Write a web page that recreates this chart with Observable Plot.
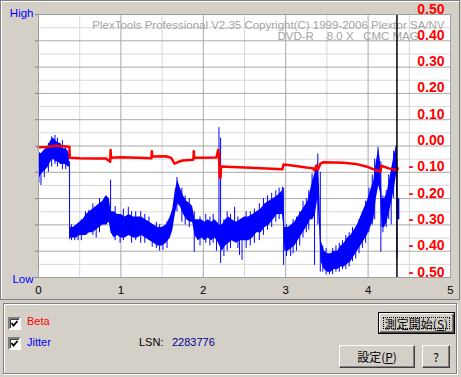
<!DOCTYPE html>
<html>
<head>
<meta charset="utf-8">
<script src="https://cdn.jsdelivr.net/npm/d3@7"></script>
<script src="https://cdn.jsdelivr.net/npm/@observablehq/plot@0.6"></script>
<style>
  html, body { margin: 0; padding: 0; background: #d4d0c8; }
  #wrap { position: relative; width: 461px; height: 377px; background: #d4d0c8; overflow: hidden;
          font-family: "Liberation Sans", Arial, sans-serif; font-size: 11px; }
  .abs { position: absolute; }
  #toppanel { left: 0; top: 0; width: 458px; height: 298px; border: 1px solid #808080; box-shadow: inset 1px 1px 0 #fff; }
  #group { left: 3px; top: 303px; width: 452px; height: 69px; border: 1px solid #808080; box-shadow: inset 1px 1px 0 #fff, 1px 1px 0 #fff; }
  #chart { left: 0; top: 0; }
  .cb { width: 9px; height: 9px; background: #fff; border-style: solid; border-width: 2px;
        border-color: #808080 #fff #fff #808080; box-shadow: inset 1px 1px 0 #404040; }
  .cb svg { position: absolute; left: 0; top: 0; }
  .lbl { white-space: nowrap; line-height: 13px; }
  .btn { box-sizing: border-box; background: #d4d0c8; border: 1px solid; border-color: #fff #404040 #404040 #fff;
         box-shadow: inset -1px -1px 0 #808080; display: flex; align-items: center; justify-content: center;
         font-family: "Noto Sans CJK JP", sans-serif; font-size: 12px; color: #000; }
  .defbtn { box-sizing: border-box; border: 1px solid #000; }
  .focus { position: absolute; left: 3px; top: 3px; right: 3px; bottom: 3px; border: 1px dotted #000; }
</style>
</head>
<body>
<div id="wrap">
  <div id="toppanel" class="abs"></div>
  <div id="chart" class="abs"></div>
  <div id="group" class="abs"></div>

  <div class="abs cb" style="left:8px;top:317px;"><svg width="9" height="9"><polyline points="1.5,4 3.5,6.5 7.5,2" fill="none" stroke="#000" stroke-width="1.8"/></svg></div>
  <div class="abs lbl" style="left:27px;top:315px;color:#ff0000;">Beta</div>
  <div class="abs cb" style="left:8px;top:337px;"><svg width="9" height="9"><polyline points="1.5,4 3.5,6.5 7.5,2" fill="none" stroke="#000" stroke-width="1.8"/></svg></div>
  <div class="abs lbl" style="left:27px;top:336px;color:#0000ff;">Jitter</div>
  <div class="abs lbl" style="left:139px;top:336px;color:#000;">LSN:</div>
  <div class="abs lbl" style="left:172px;top:336px;color:#000090;">2283776</div>

  <div class="abs defbtn" style="left:378px;top:312px;width:77px;height:22px;">
    <div class="btn" style="width:75px;height:20px;position:relative;">
      <div class="focus"></div><span>測定開始(<u>S</u>)</span>
    </div>
  </div>
  <div class="abs btn" style="left:339px;top:345px;width:76px;height:23px;"><span>設定(<u>P</u>)</span></div>
  <div class="abs btn" style="left:422px;top:345px;width:28px;height:23px;"><span>?</span></div>
</div>
<script>
// ---- data ----
const xTickValues = [0, 1, 2, 3, 4, 5];
const xMinorValues = [0.5, 1.5, 2.5, 3.5, 4.5];
const yTickValues = [0.5, 0.4, 0.3, 0.2, 0.1, 0, -0.1, -0.2, -0.3, -0.4, -0.5];
const yMinorValues = [0.45, 0.35, 0.25, 0.15, 0.05, -0.05, -0.15, -0.25, -0.35, -0.45];
const yTickLabels = ["0.50", "0.40", "0.30", "0.20", "0.10", "0.00", "- 0.10", "- 0.20", "- 0.30", "- 0.40", "- 0.50"];

const markerX = 4.35; // current position line

// Beta (red)
const betaX = [0.00, 0.10, 0.20, 0.30, 0.375, 0.38, 0.50, 0.70, 0.82, 0.85, 0.87, 0.875, 0.88, 1.00, 1.20, 1.37, 1.375, 1.38, 1.55, 1.61, 1.65, 1.70, 1.75, 1.88, 1.885, 1.89, 2.16, 2.18, 2.19, 2.20, 2.21, 2.215, 2.35, 2.50, 2.70, 2.96, 2.975, 3.10, 3.25, 3.33, 3.35, 3.37, 3.39, 3.42, 3.45, 3.70, 3.85, 4.00, 4.10, 4.15, 4.16, 4.25, 4.33, 4.345, 4.36];
const betaY = [-0.005, -0.004, 0.001, -0.001, -0.003, -0.045, -0.047, -0.048, -0.048, -0.055, -0.060, -0.015, -0.045, -0.043, -0.045, -0.047, -0.020, -0.040, -0.039, -0.045, -0.067, -0.060, -0.055, -0.052, -0.020, -0.045, -0.044, -0.015, -0.030, -0.120, -0.120, -0.078, -0.080, -0.082, -0.085, -0.088, -0.070, -0.075, -0.082, -0.085, -0.093, -0.075, -0.090, -0.068, -0.062, -0.064, -0.068, -0.080, -0.093, -0.097, -0.075, -0.085, -0.090, -0.095, -0.085];

// Jitter (blue) band: low / high edges
const jitX = [0.00, 0.03, 0.06, 0.09, 0.12, 0.15, 0.18, 0.21, 0.24, 0.27, 0.30, 0.33, 0.36, 0.375, 0.38, 0.42, 0.46, 0.50, 0.54, 0.58, 0.62, 0.66, 0.70, 0.74, 0.78, 0.82, 0.86, 0.88, 0.92, 0.96, 1.00, 1.05, 1.10, 1.15, 1.20, 1.25, 1.30, 1.35, 1.40, 1.45, 1.50, 1.55, 1.60, 1.63, 1.66, 1.69, 1.72, 1.76, 1.80, 1.84, 1.87, 1.90, 1.94, 1.98, 2.02, 2.06, 2.10, 2.14, 2.17, 2.20, 2.23, 2.27, 2.31, 2.35, 2.40, 2.45, 2.50, 2.55, 2.60, 2.65, 2.70, 2.75, 2.80, 2.85, 2.90, 2.96, 2.975, 2.99, 3.03, 3.07, 3.11, 3.15, 3.19, 3.23, 3.27, 3.30, 3.33, 3.36, 3.39, 3.41, 3.43, 3.47, 3.51, 3.55, 3.59, 3.63, 3.67, 3.71, 3.75, 3.79, 3.83, 3.87, 3.91, 3.95, 3.99, 4.03, 4.07, 4.10, 4.13, 4.15, 4.17, 4.20, 4.23, 4.26, 4.29, 4.32, 4.345, 4.36, 4.385];
const jitLo = [-0.13, -0.11, -0.10, -0.09, -0.08, -0.06, -0.05, -0.06, -0.06, -0.07, -0.07, -0.07, -0.08, -0.08, -0.35, -0.35, -0.35, -0.34, -0.34, -0.34, -0.33, -0.33, -0.32, -0.31, -0.30, -0.30, -0.29, -0.33, -0.35, -0.34, -0.35, -0.35, -0.34, -0.35, -0.35, -0.34, -0.35, -0.36, -0.37, -0.38, -0.38, -0.37, -0.35, -0.32, -0.26, -0.22, -0.23, -0.26, -0.28, -0.29, -0.29, -0.34, -0.36, -0.35, -0.36, -0.35, -0.36, -0.35, -0.36, -0.38, -0.40, -0.38, -0.37, -0.36, -0.37, -0.36, -0.36, -0.36, -0.35, -0.33, -0.33, -0.31, -0.30, -0.28, -0.26, -0.26, -0.30, -0.40, -0.40, -0.39, -0.38, -0.36, -0.34, -0.32, -0.30, -0.28, -0.28, -0.26, -0.20, -0.30, -0.44, -0.47, -0.48, -0.48, -0.47, -0.47, -0.46, -0.46, -0.45, -0.44, -0.42, -0.40, -0.38, -0.36, -0.34, -0.31, -0.28, -0.20, -0.15, -0.18, -0.31, -0.31, -0.29, -0.25, -0.21, -0.16, -0.11, -0.28, -0.28];
const jitHi = [-0.02, -0.03, -0.02, -0.01, 0.00, 0.02, 0.03, 0.02, 0.01, 0.01, -0.01, -0.01, -0.02, -0.03, -0.31, -0.31, -0.30, -0.29, -0.28, -0.26, -0.25, -0.24, -0.23, -0.22, -0.21, -0.19, -0.20, -0.25, -0.25, -0.26, -0.26, -0.27, -0.26, -0.27, -0.27, -0.27, -0.28, -0.29, -0.30, -0.31, -0.31, -0.30, -0.27, -0.24, -0.17, -0.13, -0.16, -0.19, -0.21, -0.22, -0.23, -0.28, -0.28, -0.28, -0.29, -0.28, -0.29, -0.28, -0.29, -0.30, -0.30, -0.28, -0.27, -0.28, -0.29, -0.28, -0.27, -0.27, -0.26, -0.25, -0.24, -0.22, -0.21, -0.20, -0.19, -0.17, -0.19, -0.31, -0.31, -0.30, -0.29, -0.27, -0.25, -0.23, -0.21, -0.17, -0.13, -0.10, -0.06, -0.15, -0.36, -0.40, -0.41, -0.41, -0.40, -0.40, -0.38, -0.37, -0.35, -0.34, -0.32, -0.30, -0.27, -0.24, -0.21, -0.17, -0.13, -0.06, -0.01, -0.06, -0.20, -0.20, -0.18, -0.13, -0.08, -0.03, 0.00, -0.20, -0.20];

// Jitter spikes (single strokes reaching beyond the band)
const spikeX = [0.005, 0.03, 0.07, 0.12, 0.16, 0.20, 0.23, 0.29, 0.33, 0.377, 0.40, 0.44, 0.48, 0.52, 0.57, 0.61, 0.66, 0.70, 0.74, 0.78, 0.82, 0.875, 0.93, 0.99, 1.03, 1.09, 1.13, 1.18, 1.24, 1.29, 1.34, 1.38, 1.43, 1.47, 1.51, 1.56, 1.68, 1.74, 1.78, 1.83, 1.89, 1.96, 2.03, 2.08, 2.12, 2.16, 2.19, 2.21, 2.25, 2.29, 2.33, 2.38, 2.42, 2.44, 2.47, 2.52, 2.57, 2.62, 2.68, 2.73, 2.78, 2.83, 2.88, 2.92, 2.96, 2.975, 3.01, 3.06, 3.09, 3.13, 3.17, 3.21, 3.25, 3.28, 3.32, 3.35, 3.39, 3.42, 3.45, 3.49, 3.53, 3.57, 3.61, 3.65, 3.69, 3.73, 3.77, 3.81, 3.85, 3.89, 3.93, 3.97, 4.01, 4.05, 4.08, 4.12, 4.155, 4.18, 4.22, 4.25, 4.28, 4.31, 4.34, 4.35];
const spikeLo = [-0.14, -0.15, -0.12, -0.10, -0.08, -0.07, -0.08, -0.09, -0.09, -0.355, -0.36, -0.36, -0.36, -0.36, -0.34, -0.30, -0.34, -0.35, -0.33, -0.30, -0.30, -0.30, -0.36, -0.37, -0.36, -0.30, -0.37, -0.36, -0.37, -0.37, -0.33, -0.385, -0.39, -0.40, -0.397, -0.39, -0.25, -0.29, -0.30, -0.31, -0.404, -0.38, -0.37, -0.38, -0.37, -0.40, -0.36, -0.447, -0.42, -0.40, -0.39, -0.30, -0.39, -0.416, -0.435, -0.39, -0.38, -0.37, -0.36, -0.34, -0.32, -0.31, -0.29, -0.28, -0.25, -0.454, -0.42, -0.42, -0.41, -0.40, -0.38, -0.35, -0.33, -0.32, -0.25, -0.454, -0.30, -0.48, -0.48, -0.49, -0.49, -0.49, -0.48, -0.48, -0.47, -0.47, -0.46, -0.44, -0.43, -0.41, -0.39, -0.37, -0.33, -0.30, -0.28, -0.10, -0.404, -0.33, -0.31, -0.28, -0.30, -0.20, -0.10, -0.43];
const spikeHi = [-0.03, -0.06, -0.04, 0.01, 0.035, 0.04, 0.03, 0.02, 0.00, -0.06, -0.30, -0.31, -0.30, -0.28, -0.25, -0.245, -0.22, -0.24, -0.20, -0.21, -0.19, -0.13, -0.23, -0.26, -0.24, -0.233, -0.25, -0.25, -0.25, -0.26, -0.27, -0.32, -0.29, -0.30, -0.35, -0.29, -0.12, -0.16, -0.19, -0.20, -0.25, -0.27, -0.26, -0.27, -0.26, -0.33, 0.07, 0.03, -0.28, -0.25, -0.26, -0.233, -0.27, -0.35, -0.36, -0.25, -0.25, -0.24, -0.22, -0.20, -0.19, -0.18, -0.17, -0.16, -0.157, -0.16, -0.30, -0.37, -0.28, -0.27, -0.25, -0.21, -0.20, -0.17, -0.106, -0.15, -0.03, -0.10, -0.38, -0.39, -0.44, -0.39, -0.38, -0.37, -0.36, -0.34, -0.33, -0.31, -0.37, -0.28, -0.25, -0.21, -0.16, -0.11, -0.05, -0.005, -0.06, -0.19, -0.17, -0.11, -0.20, -0.02, 0.00, -0.05];

const watermark1 = "PlexTools Professional V2.35 Copyright(C) 1999-2006 Plextor SA/NV";
const watermark2 = "DVD-R\u00a0\u00a0\u00a0\u00a08.0 X\u00a0\u00a0\u00a0CMC MAG";

// ---- build tables ----
const beta = betaX.map((x, i) => ({x, y: betaY[i]}));
const jitter = jitX.map((x, i) => ({x, lo: jitLo[i], hi: jitHi[i]}));
const spikes = spikeX.map((x, i) => ({x, lo: spikeLo[i], hi: spikeHi[i]}));
const yLabels = yTickValues.map((v, i) => ({v, label: yTickLabels[i]}));

const font = "Liberation Sans, Arial, sans-serif";

const chart = Plot.plot({
  width: 461,
  height: 300,
  marginLeft: 38,
  marginRight: 11,
  marginTop: 14,
  marginBottom: 23,
  x: {domain: [0, 5], axis: null},
  y: {domain: [-0.5, 0.5], ticks: yTickValues, tickSize: 3, tickFormat: () => "", label: null},
  style: {background: "transparent", fontFamily: font, color: "#808080", overflow: "visible"},
  marks: [
    Plot.frame({fill: "white", stroke: null}),
    Plot.ruleY(yMinorValues, {stroke: "#d8d8d8", strokeWidth: 1}),
    Plot.ruleX(xMinorValues, {stroke: "#d8d8d8", strokeWidth: 1}),
    Plot.ruleY(yTickValues, {stroke: "#a8a8a8", strokeWidth: 1}),
    Plot.ruleX(xTickValues, {stroke: "#a8a8a8", strokeWidth: 1}),
    Plot.text([watermark1], {frameAnchor: "top-right", dx: -6, dy: 10.5, textAnchor: "end", lineAnchor: "middle", fill: "#a4a4a4", fontSize: 11.5}),
    Plot.text([watermark2], {frameAnchor: "top-left", dx: 239, dy: 22, textAnchor: "start", lineAnchor: "middle", fill: "#a4a4a4", fontSize: 11.5}),
    Plot.areaY(jitter, {x: "x", y1: "lo", y2: "hi", fill: "#0000ff", curve: "linear"}),
    Plot.ruleX(spikes, {x: "x", y1: "lo", y2: "hi", stroke: "#0000ff", strokeWidth: 1}),
    Plot.line(beta, {x: "x", y: "y", stroke: "#ff0000", strokeWidth: 2.5, curve: "linear"}),
    Plot.ruleX([markerX], {stroke: "#000", strokeWidth: 1.5}),
    Plot.text(yLabels, {y: "v", text: "label", frameAnchor: "right", dx: -6, dy: -1, textAnchor: "end", lineAnchor: "bottom", fill: "#ff0000", fontWeight: "bold", fontSize: 14, ariaLabel: "ylabels"}),
    Plot.text(xTickValues, {x: d => d, text: d => String(d), frameAnchor: "bottom", dy: 13, lineAnchor: "middle", fill: "#000", fontSize: 11.5}),
    Plot.text(["High"], {frameAnchor: "top-left", dx: -5, dy: -1.5, textAnchor: "end", lineAnchor: "middle", fill: "#0000ff", fontSize: 11.5}),
    Plot.text(["Low"], {frameAnchor: "bottom-left", dx: -5, dy: 2, textAnchor: "end", lineAnchor: "middle", fill: "#0000ff", fontSize: 11.5}),
    Plot.frame({stroke: "#a0a0a0"})
  ]
});

d3.select(chart).selectAll('g[aria-label="ylabels"] text')
  .attr("textLength", function() { return this.textContent.startsWith("-") ? 28 : 19; })
  .attr("lengthAdjust", "spacingAndGlyphs");

document.getElementById("chart").appendChild(chart);
</script>
</body>
</html>
